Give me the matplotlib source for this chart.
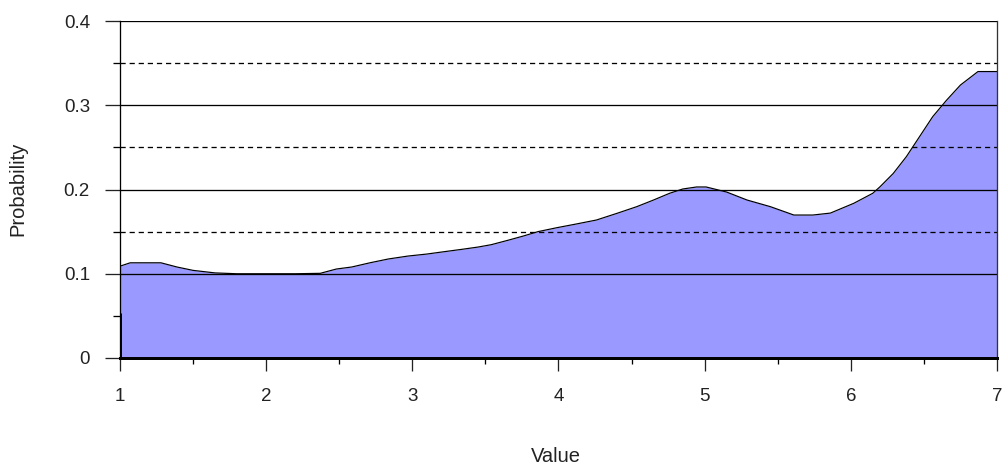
import matplotlib
matplotlib.use("Agg")
import matplotlib.pyplot as plt
from matplotlib.ticker import MultipleLocator

plt.rcParams['font.family'] = ['Liberation Sans', 'DejaVu Sans']

x_vals = [1.0, 1.07, 1.28, 1.39, 1.50, 1.65, 1.8, 2.0, 2.2, 2.37, 2.48, 2.585, 2.71,
          2.835, 2.97, 3.10, 3.21, 3.34, 3.45, 3.54, 3.66, 3.76, 3.86, 3.99, 4.12,
          4.26, 4.40, 4.535, 4.65, 4.76, 4.85, 4.945, 5.01, 5.15, 5.29, 5.45, 5.61,
          5.74, 5.86, 6.02, 6.15, 6.20, 6.29, 6.38, 6.47, 6.56, 6.655, 6.75, 6.84,
          6.87, 7.0]
prob = [0.109, 0.113, 0.113, 0.108, 0.104, 0.101, 0.100, 0.100, 0.100, 0.1005, 0.1056,
        0.108, 0.113, 0.1175, 0.121, 0.1234, 0.126, 0.129, 0.1317, 0.1345, 0.140,
        0.1448, 0.150, 0.1547, 0.159, 0.1638, 0.1717, 0.1796, 0.1875, 0.1955, 0.2006,
        0.203, 0.203, 0.197, 0.1875, 0.1796, 0.1697, 0.1697, 0.172, 0.1836, 0.1955,
        0.2033, 0.219, 0.239, 0.2627, 0.2864, 0.306, 0.324, 0.336, 0.340, 0.340]
x_ticks = [1, 2, 3, 4, 5, 6, 7]
y_ticks = [0, 0.1, 0.2, 0.3, 0.4]
y_tick_labels = ['0', '0.1', '0.2', '0.3', '0.4']
solid_grid = [0.1, 0.2, 0.3, 0.4]
dashed_grid = [0.15, 0.25, 0.35]

W, H = 1003, 470
fig = plt.figure(figsize=(W / 100, H / 100), dpi=100)
L, R, T, B = 120, 997, 21, 358
ax = fig.add_axes([L / W, 1 - B / H, (R - L) / W, (B - T) / H])
ax.set_xlim(1, 7)
ax.set_ylim(0, 0.4)

px = 0.72  # one pixel in points
FS = 13.5

ax.fill_between(x_vals, prob, 0, color='#9999FF', zorder=1, linewidth=0)
ax.plot(x_vals, prob, color='black', linewidth=1.2 * px, zorder=3)

for g in solid_grid:
    ax.axhline(g, color='black', linewidth=1.3 * px, zorder=2)
for g in dashed_grid:
    ax.axhline(g, color='black', linewidth=1.3 * px, zorder=2, dashes=(4, 3))

# thick stub at left bottom
ax.plot([1, 1], [0, 0.053], color='black', linewidth=3 * px, zorder=4, solid_capstyle='butt')

ax.spines['top'].set_visible(False)
ax.spines['left'].set_linewidth(1.3 * px)
ax.spines['right'].set_linewidth(1.3 * px)
ax.spines['right'].set_color('#333333')
ax.spines['bottom'].set_linewidth(3 * px)
for s in ax.spines.values():
    s.set_zorder(5)

ax.set_xticks(x_ticks)
ax.set_xticklabels([str(v) for v in x_ticks])
ax.set_yticks(y_ticks)
ax.set_yticklabels(y_tick_labels)
ax.xaxis.set_minor_locator(MultipleLocator(0.5))
ax.yaxis.set_minor_locator(MultipleLocator(0.05))

ax.tick_params(axis='x', which='major', direction='out', length=13 * px, width=1.3 * px,
               pad=17 * px, labelsize=FS, colors='#222222')
ax.tick_params(axis='x', which='minor', direction='out', length=6 * px, width=1.3 * px)
ax.tick_params(axis='y', which='major', direction='out', length=15 * px, width=1.3 * px,
               pad=15 * px, labelsize=FS, colors='#222222')
ax.tick_params(axis='y', which='minor', direction='out', length=7 * px, width=1.3 * px)

fig.text(556 / W, 1 - 457 / H, 'Value', ha='center', va='center', fontsize=14.5,
         color='#222222')
fig.text(18 / W, 1 - 189 / H, 'Probability', ha='center', va='center', fontsize=14.5,
         rotation=90, color='#222222')

fig.savefig('out.png', dpi=100)
